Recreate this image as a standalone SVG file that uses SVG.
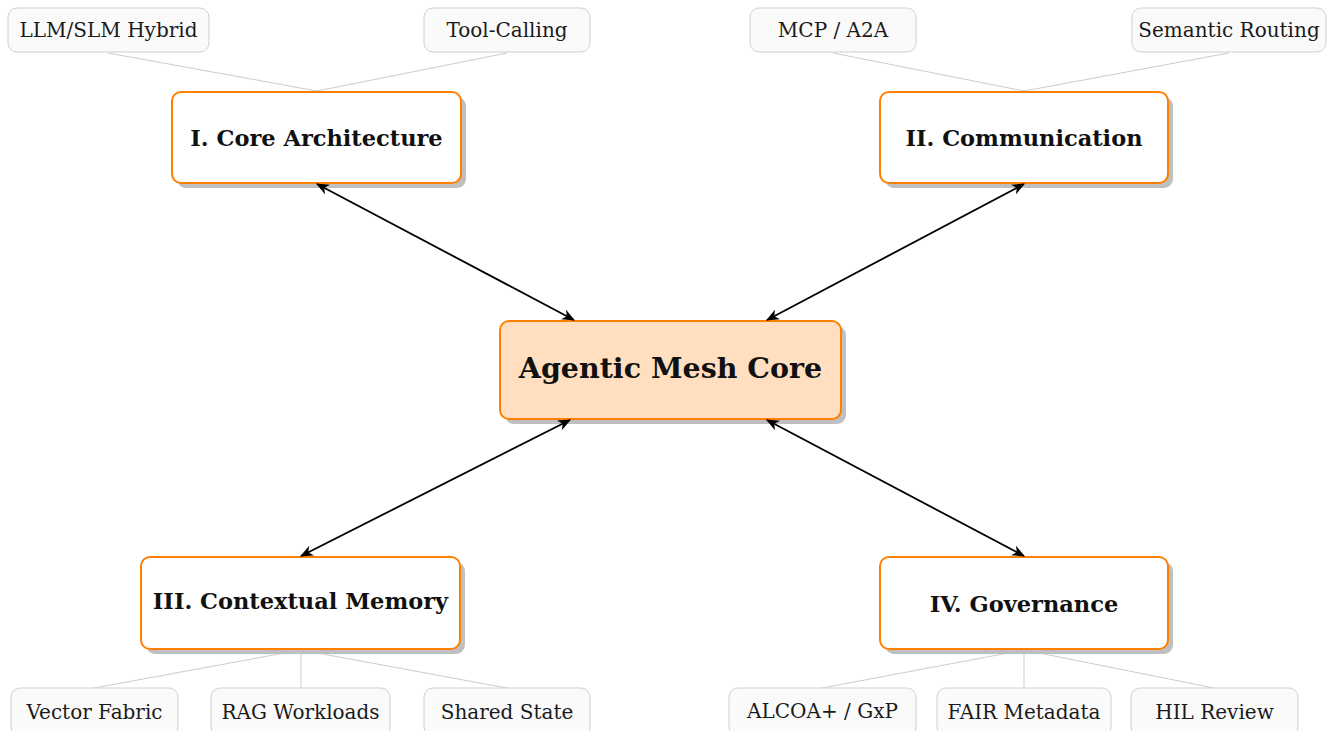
<svg xmlns="http://www.w3.org/2000/svg" width="1332" height="731" viewBox="0 0 1332 731">
  <style>
    .bg { fill: #ffffff; }
    .shadow { fill: #bfbfbf; }
    .main { fill: #ffffff; stroke: #ff8000; stroke-width: 2; }
    .core { fill: #ffdfbf; stroke: #ff8000; stroke-width: 2; }
    .leaf { fill: #fafafa; stroke: #d0d0d0; stroke-width: 1; }
    .branch { stroke: #cccccc; stroke-width: 1; fill: none; }
    .link { stroke: #000000; stroke-width: 1.8; fill: none; marker-start: url(#head); marker-end: url(#head); }
    .t-leaf { font-family: "DejaVu Serif", "Liberation Serif", serif; font-size: 20px; fill: #1a1a1a; text-anchor: middle; }
    .t-main { font-family: "DejaVu Serif", "Liberation Serif", serif; font-size: 22.5px; font-weight: bold; fill: #111111; text-anchor: middle; }
    .t-core { font-family: "DejaVu Serif", "Liberation Serif", serif; font-size: 28.5px; font-weight: bold; fill: #111111; text-anchor: middle; }
  </style>
  <defs>
    <marker id="head" viewBox="0 0 12 10" refX="11" refY="5" markerWidth="13" markerHeight="11" markerUnits="userSpaceOnUse" orient="auto-start-reverse">
      <path d="M0,0 L12,5 L0,10 L3.5,5 Z" fill="#000000"/>
    </marker>
  </defs>

  <rect class="bg" x="0" y="0" width="1332" height="731"/>

  <!-- thin branches from the four pillars to their topics -->
  <g id="branches">
    <line class="branch" x1="108" y1="53" x2="317" y2="91"/>
    <line class="branch" x1="507" y1="53" x2="317" y2="91"/>
    <line class="branch" x1="833" y1="53" x2="1024" y2="91"/>
    <line class="branch" x1="1229" y1="53" x2="1024" y2="91"/>
    <line class="branch" x1="301" y1="650" x2="94" y2="688"/>
    <line class="branch" x1="301" y1="650" x2="301" y2="688"/>
    <line class="branch" x1="301" y1="650" x2="507" y2="688"/>
    <line class="branch" x1="1024" y1="650" x2="822" y2="688"/>
    <line class="branch" x1="1024" y1="650" x2="1024" y2="688"/>
    <line class="branch" x1="1024" y1="650" x2="1214" y2="688"/>
  </g>

  <g id="core">
    <rect class="shadow" x="505" y="326" width="341" height="98" rx="9"/>
    <rect class="core" x="500" y="321" width="341" height="98" rx="9"/>
    <text class="t-core" x="670.5" y="378">Agentic Mesh Core</text>
  </g>

  <g id="core-architecture">
    <rect class="shadow" x="177" y="97" width="289" height="91" rx="9"/>
    <rect class="main" x="172" y="92" width="289" height="91" rx="9"/>
    <text class="t-main" x="316.5" y="146">I. Core Architecture</text>
  </g>

  <g id="communication">
    <rect class="shadow" x="885" y="97" width="288" height="91" rx="9"/>
    <rect class="main" x="880" y="92" width="288" height="91" rx="9"/>
    <text class="t-main" x="1024" y="146">II. Communication</text>
  </g>

  <g id="contextual-memory">
    <rect class="shadow" x="146" y="562" width="319" height="92" rx="9"/>
    <rect class="main" x="141" y="557" width="319" height="92" rx="9"/>
    <text class="t-main" x="300.5" y="609">III. Contextual Memory</text>
  </g>

  <g id="governance">
    <rect class="shadow" x="885" y="562" width="288" height="92" rx="9"/>
    <rect class="main" x="880" y="557" width="288" height="92" rx="9"/>
    <text class="t-main" x="1024" y="612">IV. Governance</text>
  </g>

  <g id="llm-slm-hybrid">
    <rect class="leaf" x="8" y="8" width="201" height="44" rx="9"/>
    <text class="t-leaf" x="108.5" y="37">LLM/SLM Hybrid</text>
  </g>
  <g id="tool-calling">
    <rect class="leaf" x="424" y="8" width="166" height="44" rx="9"/>
    <text class="t-leaf" x="507" y="37">Tool-Calling</text>
  </g>
  <g id="mcp-a2a">
    <rect class="leaf" x="750" y="8" width="166" height="44" rx="9"/>
    <text class="t-leaf" x="833" y="37">MCP / A2A</text>
  </g>
  <g id="semantic-routing">
    <rect class="leaf" x="1132" y="8" width="194" height="44" rx="9"/>
    <text class="t-leaf" x="1229" y="37">Semantic Routing</text>
  </g>

  <g id="vector-fabric">
    <rect class="leaf" x="11" y="688" width="167" height="48" rx="9"/>
    <text class="t-leaf" x="94.5" y="719">Vector Fabric</text>
  </g>
  <g id="rag-workloads">
    <rect class="leaf" x="211" y="688" width="179" height="48" rx="9"/>
    <text class="t-leaf" x="300.5" y="719">RAG Workloads</text>
  </g>
  <g id="shared-state">
    <rect class="leaf" x="424" y="688" width="166" height="48" rx="9"/>
    <text class="t-leaf" x="507" y="719">Shared State</text>
  </g>
  <g id="alcoa-gxp">
    <rect class="leaf" x="729" y="688" width="187" height="48" rx="9"/>
    <text class="t-leaf" x="822.5" y="718">ALCOA+ / GxP</text>
  </g>
  <g id="fair-metadata">
    <rect class="leaf" x="937" y="688" width="174" height="48" rx="9"/>
    <text class="t-leaf" x="1024" y="719">FAIR Metadata</text>
  </g>
  <g id="hil-review">
    <rect class="leaf" x="1131" y="688" width="167" height="48" rx="9"/>
    <text class="t-leaf" x="1214.5" y="719">HIL Review</text>
  </g>

  <!-- two-way links between the core and each pillar, drawn over the shadows -->
  <g id="connectors">
    <line class="link" x1="317" y1="184" x2="574" y2="320"/>
    <line class="link" x1="1024" y1="184" x2="767" y2="320"/>
    <line class="link" x1="301" y1="556" x2="570" y2="420"/>
    <line class="link" x1="1024" y1="556" x2="767" y2="420"/>
  </g>
</svg>
